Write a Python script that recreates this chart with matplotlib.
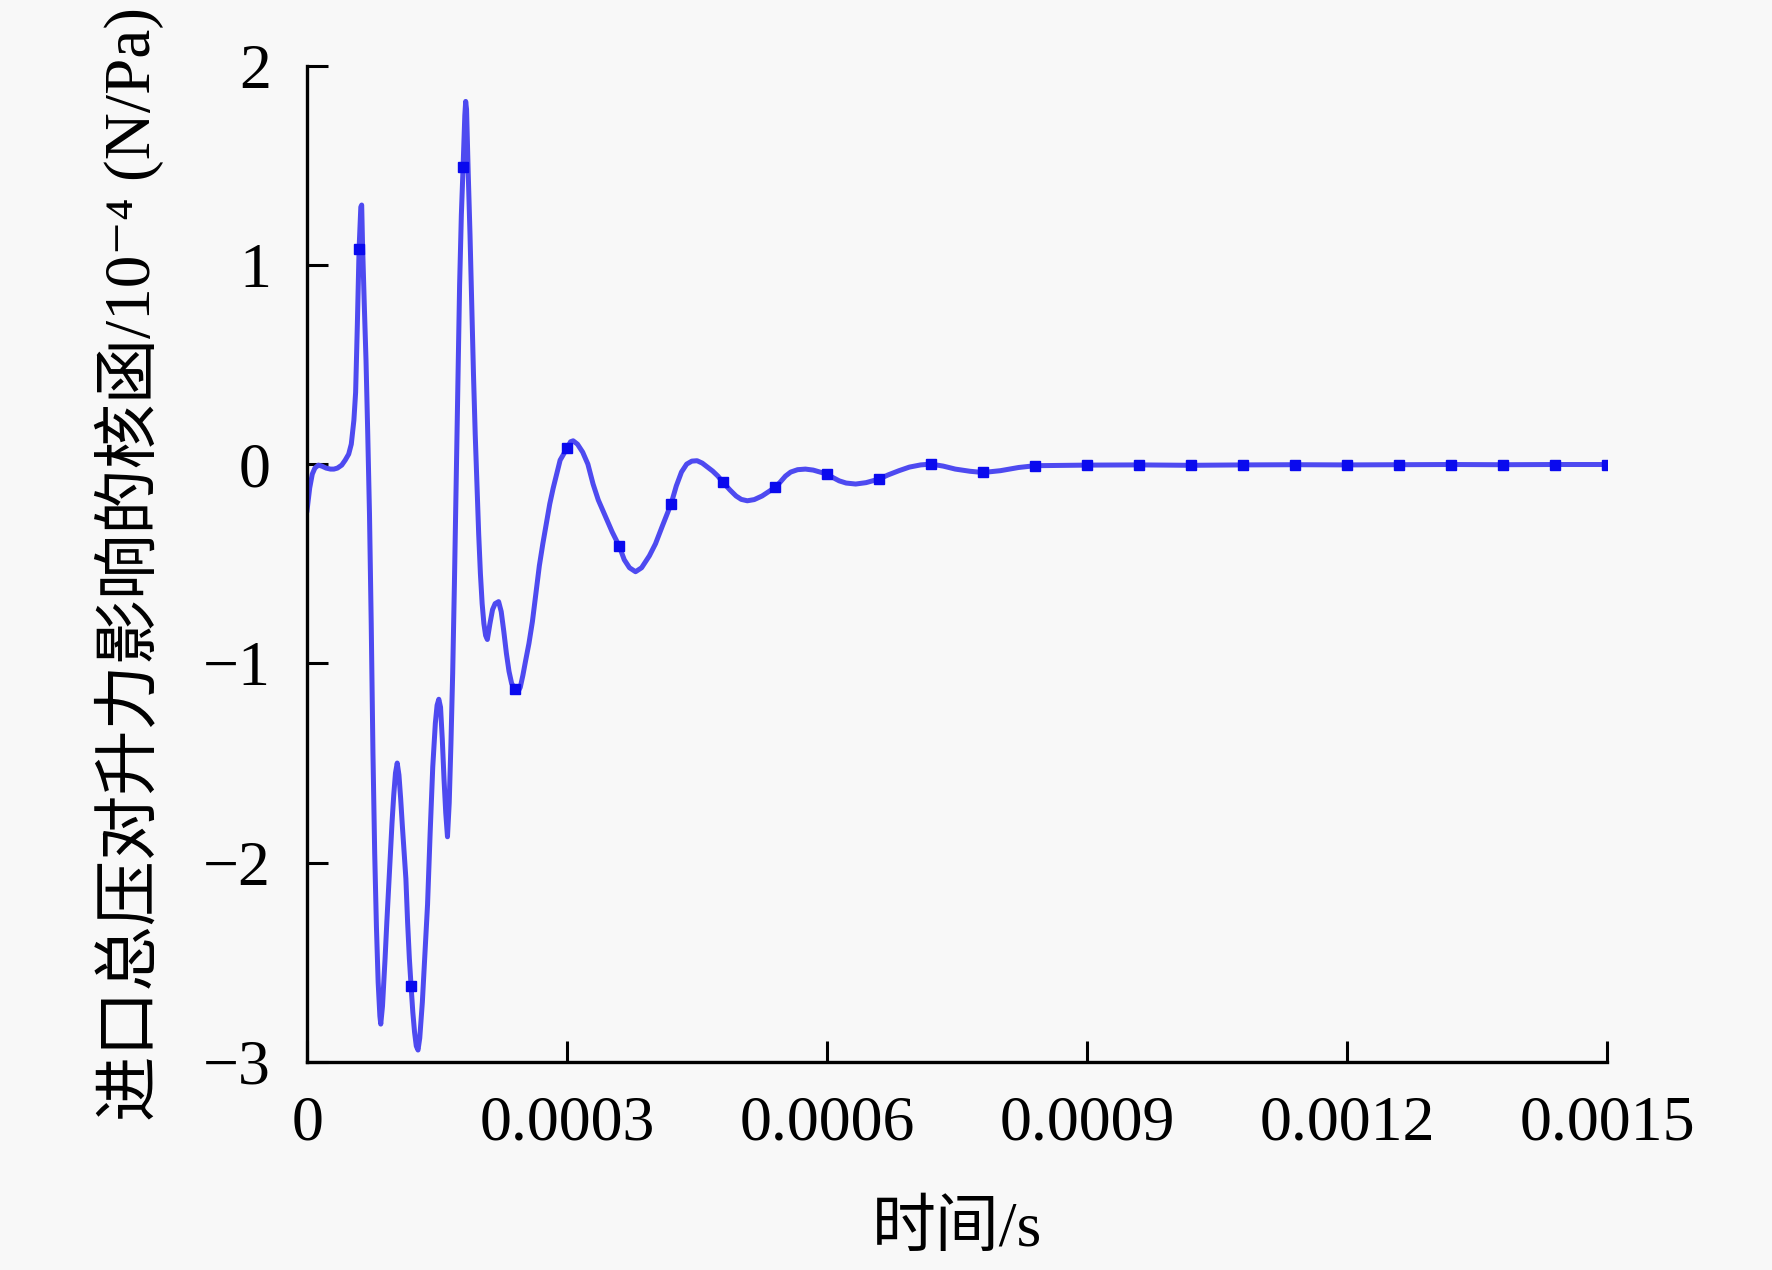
import numpy as np
import matplotlib.pyplot as plt

plt.rcParams['font.family'] = ['Liberation Serif', 'Noto Sans CJK SC', 'DejaVu Sans']

# time in microseconds, kernel value in 1e-4 N/Pa
t_us = [0, 3, 6, 9, 13, 17, 22, 27, 31, 35, 40, 44, 48, 51, 54, 56, 58,
        60, 62, 63, 64, 66, 68, 70, 72, 74, 76, 78, 80, 82, 84, 85, 87,
        90, 92, 95, 98, 100, 102, 104, 106, 108, 110, 112, 114, 116, 118,
        120, 122, 124, 126, 128, 130, 133, 136, 139, 142, 145, 148, 150,
        152, 154, 156, 158, 160, 162, 164, 166, 168, 170, 172, 174, 176,
        178, 180, 182, 183, 184, 186, 188, 190, 192, 194, 196, 198, 200,
        202, 204, 206, 208, 211, 214, 217, 221, 224, 227, 230, 233, 236,
        240, 243, 246, 249, 252, 256, 260, 264, 268, 272, 276, 280, 284,
        288, 292, 296, 300, 304, 307, 312, 318, 324, 330, 336, 345, 352,
        360, 366, 372, 379, 386, 395, 402, 410, 420, 426, 432, 438, 444,
        450, 456, 462, 468, 474, 480, 488, 495, 501, 508, 516, 525, 532,
        540, 546, 552, 558, 566, 575, 584, 592, 600, 607, 614, 622, 633,
        645, 660, 670, 683, 695, 708, 720, 734, 748, 765, 780, 800, 821,
        840, 900, 960, 1020, 1080, 1140, 1200, 1260, 1320, 1380, 1440, 1500]
kernel = [-0.23, -0.12, -0.05, -0.02, -0.005, -0.01, -0.02, -0.025, -0.025,
          -0.02, -0.005, 0.02, 0.05, 0.10, 0.22, 0.36, 0.70,
          1.08, 1.29, 1.30, 1.10, 0.80, 0.52, 0.15, -0.25, -0.80, -1.45,
          -1.95, -2.32, -2.60, -2.77, -2.81, -2.72,
          -2.48, -2.30, -2.05, -1.80, -1.66, -1.55, -1.50, -1.56, -1.68,
          -1.82, -1.95, -2.08, -2.30, -2.48,
          -2.62, -2.75, -2.85, -2.92, -2.94, -2.88, -2.70, -2.45, -2.21,
          -1.85, -1.52, -1.30, -1.21,
          -1.18, -1.22, -1.38, -1.58, -1.75, -1.87, -1.70, -1.40, -1.05,
          -0.60, -0.10, 0.40, 0.90,
          1.25, 1.49, 1.75, 1.82, 1.78, 1.45, 1.15, 0.80, 0.45, 0.15,
          -0.10, -0.35, -0.55,
          -0.70, -0.80, -0.86, -0.88, -0.80, -0.73, -0.70, -0.69, -0.74,
          -0.84, -0.95, -1.04, -1.10,
          -1.13, -1.145, -1.12, -1.06, -0.99, -0.90, -0.79, -0.65, -0.51,
          -0.40, -0.30, -0.20, -0.12,
          -0.05, 0.02, 0.05, 0.08, 0.112, 0.117, 0.10, 0.06, 0.0, -0.10,
          -0.18, -0.27, -0.34,
          -0.41, -0.48, -0.52, -0.54, -0.52, -0.46, -0.40, -0.31, -0.20,
          -0.11, -0.04, 0.0, 0.015,
          0.017, 0.005, -0.015, -0.035, -0.06, -0.092, -0.13, -0.16, -0.177,
          -0.184, -0.178, -0.16, -0.14,
          -0.117, -0.09, -0.06, -0.04, -0.028, -0.025, -0.03, -0.04, -0.05,
          -0.068, -0.084, -0.095, -0.10,
          -0.093, -0.075, -0.055, -0.033, -0.015, -0.004, 0.0, -0.01, -0.025,
          -0.036, -0.042, -0.033, -0.017,
          -0.008, -0.005, -0.004, -0.006, -0.004, -0.003, -0.004, -0.003,
          -0.002, -0.003, -0.002, -0.002]

marker_step_us = 60
xtick_vals = [0, 0.0003, 0.0006, 0.0009, 0.0012, 0.0015]
xtick_labels = ['0', '0.0003', '0.0006', '0.0009', '0.0012', '0.0015']
ytick_vals = [-3, -2, -1, 0, 1, 2]

t = np.array(t_us) * 1e-6
marks = [i for i, v in enumerate(t_us) if v > 0 and v % marker_step_us == 0]

fig = plt.figure(figsize=(17.72, 12.70), dpi=100, facecolor='#f8f8f8')
ax = fig.add_axes([0.1733, 0.1638, 0.7336, 0.7846])
ax.set_facecolor('#f8f8f8')

ax.plot(t, kernel, color='#4e4af0', lw=3.6, marker='s', markersize=7.5,
        markerfacecolor='#0a0aee', markeredgecolor='#0a0aee', markevery=marks)

ax.set_xlim(0, 0.0015)
ax.set_ylim(-3, 2)
ax.set_xticks(xtick_vals)
ax.set_xticklabels(xtick_labels)
ax.set_yticks(ytick_vals)

for s in ['top', 'right']:
    ax.spines[s].set_visible(False)
for s in ['left', 'bottom']:
    ax.spines[s].set_linewidth(2.4)

ax.tick_params(axis='both', direction='in', length=15, width=2.2, labelsize=46)
ax.tick_params(axis='x', pad=24)
ax.tick_params(axis='y', pad=26)

ax.set_xlabel('时间/s', fontsize=46)
ax.xaxis.set_label_coords(0.5, -0.14)
ax.set_ylabel('进口总压对升力影响的核函/10⁻⁴ (N/Pa)', fontsize=47)
ax.yaxis.set_label_coords(-0.11, 0.5)

fig.savefig('out.png', dpi=100, facecolor=fig.get_facecolor())
